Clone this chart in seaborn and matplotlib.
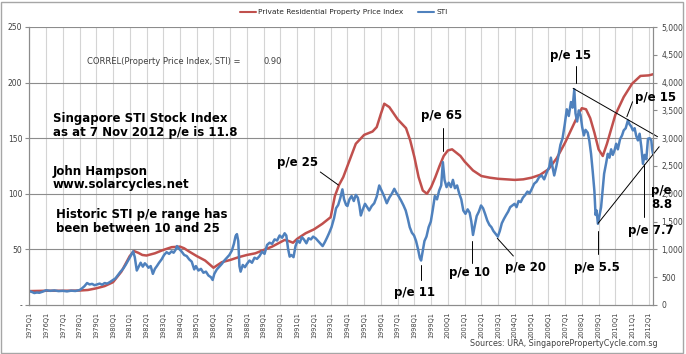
import matplotlib
matplotlib.use("Agg")
import matplotlib.pyplot as plt
from matplotlib.lines import Line2D
from matplotlib.patches import Rectangle
import seaborn as sns
import pandas as pd

# Private Residential Property Price Index (left axis), decimal year / value
prop_t = [1975.00, 1976.00, 1977.00, 1978.00, 1978.50, 1979.00, 1979.50, 1980.00,
          1980.50, 1980.75, 1981.00, 1981.25, 1981.50, 1981.75, 1982.00, 1982.50,
          1983.00, 1983.50, 1984.00, 1984.25, 1984.50, 1985.00, 1985.50, 1986.00,
          1986.25, 1986.50, 1987.00, 1987.50, 1988.00, 1988.50, 1989.00, 1989.50,
          1990.00, 1990.25, 1990.50, 1990.75, 1991.00, 1991.50, 1992.00, 1992.50,
          1993.00, 1993.25, 1993.50, 1993.75, 1994.00, 1994.50, 1995.00, 1995.50,
          1995.75, 1996.00, 1996.20, 1996.50, 1997.00, 1997.50, 1997.75, 1998.00,
          1998.25, 1998.50, 1998.75, 1999.00, 1999.25, 1999.50, 1999.75, 2000.00,
          2000.25, 2000.50, 2000.75, 2001.00, 2001.50, 2002.00, 2002.50, 2003.00,
          2003.50, 2004.00, 2004.50, 2005.00, 2005.50, 2006.00, 2006.50, 2007.00,
          2007.50, 2007.75, 2008.00, 2008.25, 2008.50, 2008.75, 2009.00, 2009.25,
          2009.50, 2010.00, 2010.50, 2011.00, 2011.50, 2012.00, 2012.25]
prop_v = [12.5, 12.8, 12.8, 13.0, 13.5, 15.0, 17.0, 20.5,
          30.0, 37.0, 44.0, 48.5, 47.0, 45.0, 44.5, 46.5,
          49.5, 52.0, 52.5, 51.0, 48.5, 44.0, 40.0, 33.5,
          36.0, 38.5, 40.5, 43.0, 45.0, 46.5, 49.5, 52.5,
          56.5, 58.5, 57.5, 56.0, 59.5, 64.5, 68.0, 73.0,
          79.0, 98.0, 108.0, 115.0, 125.0, 145.0, 153.0, 156.0,
          160.0, 172.0, 181.0, 178.0, 167.0, 159.0, 148.0, 133.0,
          115.0, 103.0, 100.0, 106.0, 115.0, 125.0, 134.0, 139.0,
          140.0, 137.0, 134.0, 129.0, 121.0, 116.0, 114.5, 113.5,
          113.0, 112.5, 113.0, 114.5, 117.0, 122.0, 132.0, 146.0,
          162.0, 170.0, 177.0, 176.0, 168.0, 155.0, 140.0, 134.0,
          145.0, 171.0, 187.0, 199.0, 206.0, 206.5, 207.5]

# Straits Times Index (right axis), decimal year / value
sti_t = [1975.00, 1975.15, 1975.30, 1975.45, 1975.60, 1975.80, 1976.00, 1976.25,
         1976.50, 1976.75, 1977.00, 1977.25, 1977.50, 1977.75, 1978.00, 1978.15,
         1978.30, 1978.45, 1978.60, 1978.75, 1978.90, 1979.05, 1979.20, 1979.35,
         1979.50, 1979.65, 1979.80, 1980.00, 1980.15, 1980.30, 1980.45, 1980.60,
         1980.75, 1980.90, 1981.05, 1981.20, 1981.30, 1981.42, 1981.55, 1981.65,
         1981.78, 1981.90, 1982.00, 1982.12, 1982.25, 1982.38, 1982.50, 1982.62,
         1982.75, 1982.90, 1983.05, 1983.20, 1983.35, 1983.50, 1983.62, 1983.75,
         1983.82, 1983.95, 1984.10, 1984.25, 1984.40, 1984.55, 1984.70, 1984.85,
         1984.95, 1985.10, 1985.25, 1985.40, 1985.55, 1985.70, 1985.85, 1985.95,
         1986.05, 1986.20, 1986.35, 1986.50, 1986.65, 1986.80, 1986.95, 1987.10,
         1987.22, 1987.32, 1987.40, 1987.48, 1987.55, 1987.62, 1987.75, 1987.88,
         1988.00, 1988.15, 1988.30, 1988.45, 1988.60, 1988.75, 1988.90, 1989.05,
         1989.20, 1989.35, 1989.50, 1989.65, 1989.80, 1989.95, 1990.10, 1990.25,
         1990.35, 1990.45, 1990.55, 1990.65, 1990.78, 1990.90, 1991.02, 1991.15,
         1991.28, 1991.40, 1991.55, 1991.68, 1991.82, 1991.95, 1992.10, 1992.25,
         1992.40, 1992.52, 1992.65, 1992.78, 1992.90, 1993.05, 1993.20, 1993.32,
         1993.45, 1993.58, 1993.70, 1993.80, 1993.92, 1994.00, 1994.12, 1994.25,
         1994.38, 1994.50, 1994.62, 1994.72, 1994.80, 1994.92, 1995.05, 1995.18,
         1995.30, 1995.45, 1995.60, 1995.75, 1995.90, 1996.05, 1996.20, 1996.35,
         1996.50, 1996.65, 1996.80, 1996.92, 1997.05, 1997.20, 1997.35, 1997.48,
         1997.60, 1997.72, 1997.85, 1997.98, 1998.10, 1998.22, 1998.32, 1998.40,
         1998.50, 1998.60, 1998.72, 1998.85, 1998.98, 1999.10, 1999.22, 1999.35,
         1999.48, 1999.60, 1999.70, 1999.80, 1999.92, 2000.05, 2000.18, 2000.30,
         2000.42, 2000.55, 2000.68, 2000.80, 2000.92, 2001.05, 2001.18, 2001.30,
         2001.40, 2001.50, 2001.60, 2001.72, 2001.85, 2001.98, 2002.10, 2002.22,
         2002.35, 2002.48, 2002.60, 2002.72, 2002.85, 2002.98, 2003.10, 2003.22,
         2003.35, 2003.48, 2003.60, 2003.72, 2003.85, 2003.98, 2004.10, 2004.22,
         2004.35, 2004.48, 2004.62, 2004.75, 2004.88, 2005.00, 2005.15, 2005.30,
         2005.45, 2005.60, 2005.75, 2005.90, 2006.05, 2006.15, 2006.25, 2006.35,
         2006.48, 2006.60, 2006.72, 2006.85, 2006.98, 2007.10, 2007.22, 2007.35,
         2007.45, 2007.55, 2007.62, 2007.72, 2007.82, 2007.92, 2008.02, 2008.12,
         2008.22, 2008.35, 2008.45, 2008.55, 2008.65, 2008.75, 2008.82, 2008.88,
         2008.96, 2009.05, 2009.15, 2009.25, 2009.33, 2009.45, 2009.55, 2009.65,
         2009.75, 2009.85, 2009.95, 2010.05, 2010.15, 2010.28, 2010.40, 2010.50,
         2010.62, 2010.75, 2010.85, 2010.95, 2011.05, 2011.15, 2011.25, 2011.35,
         2011.45, 2011.55, 2011.65, 2011.75, 2011.85, 2011.95, 2012.05, 2012.15,
         2012.20, 2012.25]
sti_v = [250, 235, 215, 225, 220, 240, 265, 255,
         262, 250, 255, 245, 258, 252, 268, 300,
         340, 395, 370, 380, 355, 370, 385, 365,
         395, 385, 410, 450, 480, 540, 600, 650,
         720, 800, 880, 965, 860, 620, 700, 760,
         690, 750, 720, 670, 700, 560, 650, 700,
         760, 820, 900, 950, 920, 965, 940, 1000,
         1060, 1010, 960, 900, 880, 820, 780, 640,
         700, 620, 650, 580, 600, 530, 500, 450,
         560, 640, 690, 740, 800, 850, 900, 980,
         1100, 1240, 1275, 1150, 700, 600, 720, 680,
         740, 800, 760, 850, 830, 880, 960, 920,
         1080, 1120, 1100, 1180, 1160, 1250, 1210, 1290,
         1250, 1020, 870, 900, 860, 1060, 1160, 1120,
         1220, 1180, 1110, 1200, 1180, 1230, 1200, 1150,
         1100, 1060, 1130, 1210, 1290, 1400, 1560, 1740,
         1800, 1930, 2080, 1900, 1800, 1780, 1900, 1960,
         1870, 1980, 1930, 1780, 1610, 1720, 1820, 1760,
         1700, 1780, 1830, 1950, 2150, 2050, 1950, 1830,
         1930, 2000, 2090, 2020, 1960, 1880, 1790, 1700,
         1560, 1400, 1300, 1250, 1150, 1000, 850, 800,
         980, 1150, 1230, 1400, 1500, 1720, 1960, 1900,
         2060, 2150, 2570, 2250, 2120, 2200, 2120, 2250,
         2100, 2150, 2000, 1900, 1700, 1640, 1720, 1660,
         1500, 1260, 1420, 1600, 1680, 1790, 1740, 1640,
         1520, 1440, 1400, 1330, 1280, 1230, 1330, 1470,
         1550, 1620, 1680, 1760, 1790, 1820, 1760, 1870,
         1850, 1930, 1980, 2040, 2010, 2080, 2180, 2220,
         2300, 2330, 2260, 2380, 2480, 2650, 2480, 2330,
         2500, 2680, 2880, 3000, 3250, 3520, 3400, 3650,
         3550, 3880, 3450, 3300, 3500, 3420, 3200, 3050,
         3150, 3100, 2950, 2720, 2400, 2050, 1620, 1700,
         1460, 1600, 1760, 2100, 2360, 2550, 2720, 2650,
         2800, 2700, 2780, 2900, 2800, 2980, 3050, 3140,
         3180, 3320, 3250, 3210, 3140, 3180, 3040, 2960,
         3080, 2850, 2540, 2700, 2620, 2990, 3000, 2960,
         2800, 2720]

years = list(range(1975, 2013))
year_labels = [f"{y}Q1" for y in years]
left_ticks = [0, 50, 100, 150, 200, 250]
left_labels = ["-", "50", "100", "150", "200", "250"]
right_ticks = list(range(0, 5001, 500))
right_labels = [f"{v:,}" for v in right_ticks]

RED = "#C0504D"
BLUE = "#4F81BD"
TXT = "#404040"

sns.set_style("white")
plt.rcParams["font.family"] = ["DejaVu Sans"]

prop = pd.DataFrame({"t": prop_t, "v": prop_v})
sti = pd.DataFrame({"t": sti_t, "v": sti_v})

fig = plt.figure(figsize=(6.86, 3.54), dpi=100)
ax = fig.add_axes([29.3 / 686, 1 - 305 / 354, (653 - 29.3) / 686, 278 / 354])
ax2 = ax.twinx()

# gridlines
for y in years:
    ax.axvline(y, color="#d4d4d4", lw=0.8, zorder=0)
for v in left_ticks[1:]:
    ax.axhline(v, color="#8c8c8c", lw=0.8, zorder=0)

sns.lineplot(data=prop, x="t", y="v", ax=ax, color=RED, linewidth=1.8)
sns.lineplot(data=sti, x="t", y="v", ax=ax2, color=BLUE, linewidth=1.8)

ax.set_xlim(1975, 2012.25)
ax.set_ylim(0, 250)
ax2.set_ylim(0, 5000)
ax.set_xlabel("")
ax.set_ylabel("")
ax2.set_ylabel("")

ax.set_xticks(years)
ax.set_xticklabels(year_labels, rotation=90, fontsize=4.8, color=TXT)
ax.set_yticks(left_ticks)
ax.set_yticklabels(left_labels, fontsize=5.5, color=TXT)
ax2.set_yticks(right_ticks)
ax2.set_yticklabels(right_labels, fontsize=5.5, color=TXT)
ax.tick_params(axis="x", length=3, color="#8c8c8c", pad=2)
ax.tick_params(axis="y", length=3, color="#8c8c8c", pad=2)
ax2.tick_params(axis="y", length=3, color="#8c8c8c", pad=3)

for a in (ax, ax2):
    a.spines["top"].set_visible(False)
    for s in ("left", "right", "bottom"):
        a.spines[s].set_color("#8c8c8c")
        a.spines[s].set_linewidth(0.8)

# legend
handles = [Line2D([], [], color=RED, lw=1.5), Line2D([], [], color=BLUE, lw=1.5)]
fig.legend(handles, ["Private Residential Property Price Index", "STI"],
           loc="center", bbox_to_anchor=(0.501, 0.966), ncol=2, frameon=False,
           fontsize=5.3, handlelength=2.2, columnspacing=2.0, handletextpad=0.3)

# text blocks
ax.text(0.093, 0.875, "CORREL(Property Price Index, STI) =", transform=ax.transAxes,
        fontsize=6, color=TXT, va="center")
ax.text(0.376, 0.875, "0.90", transform=ax.transAxes, fontsize=6, color=TXT, va="center")
bold = dict(fontsize=8.5, fontweight="bold", color="black", linespacing=1.05)
ax.text(0.038, 0.645, "Singapore STI Stock Index\nas at 7 Nov 2012 p/e is 11.8",
        transform=ax.transAxes, va="center", **bold)
ax.text(0.038, 0.457, "John Hampson\nwww.solarcycles.net",
        transform=ax.transAxes, va="center", **bold)
ax.text(0.043, 0.300, "Historic STI p/e range has\nbeen between 10 and 25",
        transform=ax.transAxes, va="center", **bold)

# p/e annotations (on STI axis)
line = dict(color="black", lw=0.7, clip_on=False)
ax2.text(1991.0, 2554, "p/e 25", ha="center", va="center", **bold)
ax2.plot([1992.38, 1993.46], [2392, 2158], **line)
ax2.text(1999.6, 3417, "p/e 65", ha="center", va="center", **bold)
ax2.plot([1999.68, 1999.68], [3183, 2770], **line)
ax2.text(2007.34, 4496, "p/e 15", ha="center", va="center", **bold)
ax2.plot([2007.64, 2007.64], [4298, 3993], **line)
ax2.plot([2007.48, 2012.52], [3897, 3027], **line)
ax2.text(2012.42, 3741, "p/e 15", ha="center", va="center", clip_on=False, **bold)
ax2.plot([2011.03, 2010.69], [3656, 3387], **line)
ax2.plot([2008.97, 2012.62], [1469, 2847], **line)
ax2.text(1998.0, 216, "p/e 11", ha="center", va="center", **bold)
ax2.plot([1998.41, 1998.41], [719, 450], **line)
ax2.text(2001.3, 576, "p/e 10", ha="center", va="center", **bold)
ax2.plot([2001.46, 2001.46], [1151, 755], **line)
ax2.text(2004.65, 683, "p/e 20", ha="center", va="center", **bold)
ax2.plot([2002.95, 2003.91], [1200, 881], **line)
ax2.text(2008.9, 683, "p/e 5.5", ha="center", va="center", **bold)
ax2.plot([2008.99, 2008.99], [1331, 917], **line)
ax2.text(2012.12, 1331, "p/e 7.7", ha="center", va="center", clip_on=False, **bold)
ax2.plot([2011.71, 2011.71], [2536, 1583], **line)
ax2.text(2012.12, 1933, "p/e\n8.8", ha="left", va="center", clip_on=False, **bold)
ax2.plot([2012.26, 2012.26], [2644, 2302], **line)

fig.text(0.958, 0.029, "Sources: URA, SingaporePropertyCycle.com.sg", ha="right",
         va="center", fontsize=5.8, color=TXT)

fig.patches.append(Rectangle((0.002, 0.004), 0.994, 0.99, transform=fig.transFigure,
                             fill=False, edgecolor="#a6a6a6", lw=1.0))

fig.savefig("out.png", dpi=100)
